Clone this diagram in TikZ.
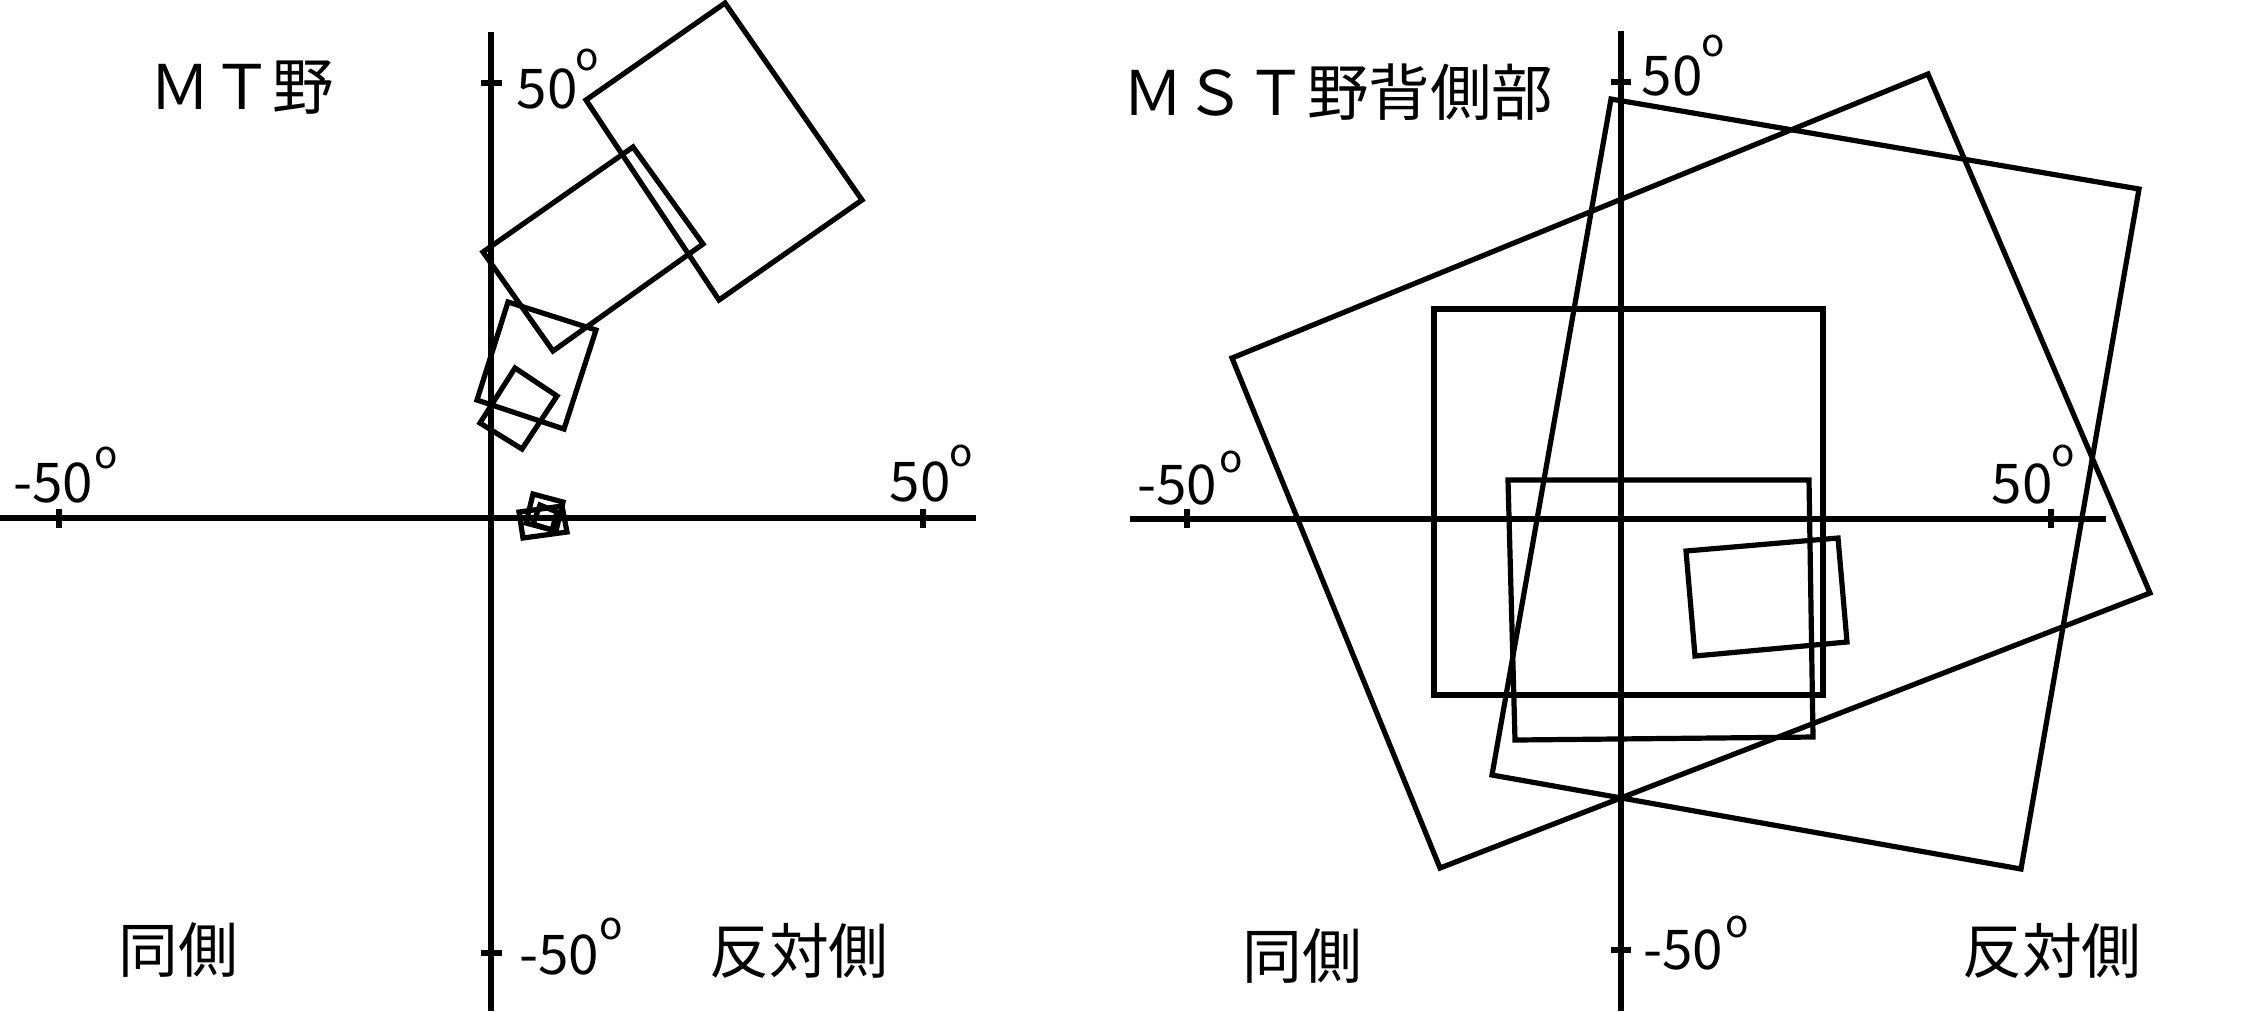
\documentclass[tikz,border=0pt]{standalone}
\usepackage{fontspec}
\setmainfont{Noto Sans CJK JP}
\begin{document}
\begin{tikzpicture}[x=0.1mm,y=-0.1mm,
  ln/.style={line width=0.52mm, line join=miter},
  ax/.style={line width=0.52mm},
  axh/.style={line width=0.62mm},
  tk/.style={line width=0.55mm},
  num/.style={inner sep=0pt, font=\fontsize{15.6pt}{16pt}\selectfont},
  deg/.style={inner sep=0pt, font=\fontsize{11pt}{12pt}\selectfont},
  side/.style={inner sep=0pt, font=\fontsize{17pt}{18pt}\selectfont},
  ttl/.style={inner sep=0pt, font=\fontsize{17.5pt}{18pt}\selectfont}]
\useasboundingbox (0,0) rectangle (2244,1011);
\fill[white] (0,0) rectangle (2244,1011);

% ---------------- left panel: MT ----------------
\coordinate (LxA) at (0,518);
\coordinate (LxB) at (976,518);
\coordinate (LyA) at (491,32);
\coordinate (LyB) at (491,1011);
\draw[axh] (LxA) -- (LxB);
\draw[ax] (LyA) -- (LyB);
% ticks
\coordinate (Lt1a) at (59,509);  \coordinate (Lt1b) at (59,528);
\coordinate (Lt2a) at (923,509); \coordinate (Lt2b) at (923,528);
\coordinate (Lt3a) at (481,83);  \coordinate (Lt3b) at (502,83);
\coordinate (Lt4a) at (481,953); \coordinate (Lt4b) at (502,953);
\draw[tk] (Lt1a) -- (Lt1b);
\draw[tk] (Lt2a) -- (Lt2b);
\draw[tk] (Lt3a) -- (Lt3b);
\draw[tk] (Lt4a) -- (Lt4b);

% receptive fields
\draw[ln] (725,3) -- (862,200) -- (719,300) -- (586,100) -- cycle;
\draw[ln] (633,147) -- (703,244) -- (553,351) -- (483,252) -- cycle;
\draw[ln] (508,302) -- (596,330) -- (564,429) -- (477,400) -- cycle;
\draw[ln] (515,368) -- (557,396) -- (522,449) -- (480,423) -- cycle;
% tiny cluster near the fovea
\draw[ln] (533,494) -- (563,502) -- (556,531) -- (526,523) -- cycle;
\draw[ln] (519,512) -- (562,506) -- (567,532) -- (523,538) -- cycle;
\draw[ln] (540,505) -- (557,512) -- (552,530) -- (533,524) -- cycle;

% labels
\node[ttl] (Ltitle) at (242,88) {ＭＴ野};
\node[num] (Lnum50y) at (547,89) {50};
\node[deg] (Ldeg50y) at (587,60) {o};
\node[num] (Lnumm50x) at (53,483) {-50};
\node[deg] (Ldegm50x) at (106,458) {o};
\node[num] (Lnum50x) at (920,482) {50};
\node[deg] (Ldeg50x) at (961,456) {o};
\node[num] (Lnumm50y) at (559,955) {-50};
\node[deg] (Ldegm50y) at (611,929) {o};
\node[side] (Lipsi) at (178,950) {同側};
\node[side] (Lcontra) at (799,951) {反対側};

% ---------------- right panel: MSTd ----------------
\coordinate (RxA) at (1130,519);
\coordinate (RxB) at (2106,519);
\coordinate (RyA) at (1621,31);
\coordinate (RyB) at (1621,1011);
\draw[ax] (RxA) -- (RxB);
\draw[ax] (RyA) -- (RyB);
\coordinate (Rt1a) at (1187,509); \coordinate (Rt1b) at (1187,528);
\coordinate (Rt2a) at (2051,509); \coordinate (Rt2b) at (2051,528);
\coordinate (Rt3a) at (1611,82);  \coordinate (Rt3b) at (1631,82);
\coordinate (Rt4a) at (1611,950); \coordinate (Rt4b) at (1631,950);
\draw[tk] (Rt1a) -- (Rt1b);
\draw[tk] (Rt2a) -- (Rt2b);
\draw[tk] (Rt3a) -- (Rt3b);
\draw[tk] (Rt4a) -- (Rt4b);

% receptive fields
\draw[ln] (1232,358) -- (1928,74) -- (2150,593) -- (1440,868) -- cycle;
\draw[ln] (1611,99) -- (2139,189) -- (2021,869) -- (1492,775) -- cycle;
\draw[ln] (1434,309) -- (1823,309) -- (1823,695) -- (1434,695) -- cycle;
\draw[ln] (1508,480) -- (1809,480) -- (1813,737) -- (1515,740) -- cycle;
\draw[ln] (1686,551) -- (1838,538) -- (1847,642) -- (1695,656) -- cycle;

% labels
\node[ttl] (Rtitle) at (1338,92) {ＭＳＴ野背側部};
\node[num] (Rnum50y) at (1672,76) {50};
\node[deg] (Rdeg50y) at (1713,46) {o};
\node[num] (Rnumm50x) at (1177,485) {-50};
\node[deg] (Rdegm50x) at (1231,462) {o};
\node[num] (Rnum50x) at (2022,484) {50};
\node[deg] (Rdeg50x) at (2063,456) {o};
\node[num] (Rnumm50y) at (1683,950) {-50};
\node[deg] (Rdegm50y) at (1737,927) {o};
\node[side] (Ripsi) at (1302,956) {同側};
\node[side] (Rcontra) at (2052,951) {反対側};
\end{tikzpicture}
\end{document}
